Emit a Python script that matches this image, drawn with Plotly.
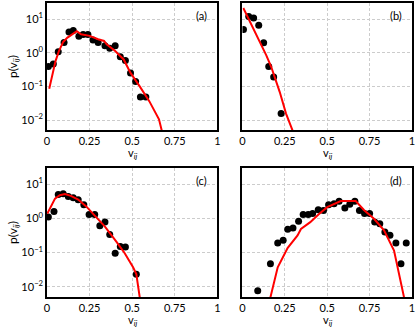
import numpy as np
import plotly.graph_objects as go

# panel (a)
a_pts_v = [0.008, 0.037, 0.066, 0.10, 0.129, 0.154, 0.187, 0.212, 0.24, 0.27,
           0.30, 0.34, 0.368, 0.40, 0.43, 0.46, 0.49, 0.52, 0.548, 0.58]
a_pts_p = [0.39, 0.46, 1.07, 2.0, 4.1, 4.6, 3.1, 3.5, 3.5, 2.4,
           2.0, 1.6, 1.35, 1.6, 0.76, 0.59, 0.25, 0.14, 0.048, 0.048]
a_fit_v = [0.013, 0.03, 0.05, 0.07, 0.095, 0.12, 0.15, 0.175, 0.2, 0.25,
           0.3, 0.335, 0.35, 0.4, 0.45, 0.49, 0.544, 0.6, 0.657, 0.675]
a_fit_logp = [-1.07, -0.7, -0.25, 0.05, 0.32, 0.45, 0.55, 0.64, 0.55, 0.5,
              0.4, 0.35, 0.25, 0.05, -0.2, -0.6, -1.0, -1.44, -1.98, -2.35]

# panel (b)
b_pts_v = [0.006, 0.037, 0.066, 0.096, 0.125, 0.155, 0.184, 0.228]
b_pts_p = [4.9, 12.0, 10.7, 6.5, 1.96, 0.39, 0.19, 0.0155]
b_fit_v = [0.005, 0.05, 0.108, 0.14, 0.169, 0.19, 0.22, 0.257, 0.297]
b_fit_logp = [1.33, 0.87, 0.29, -0.07, -0.41, -0.71, -1.17, -1.81, -2.33]

# panel (c)
c_pts_v = [0.008, 0.041, 0.066, 0.095, 0.125, 0.154, 0.183, 0.216, 0.247,
           0.28, 0.31, 0.34, 0.368, 0.40, 0.43, 0.46, 0.524]
c_pts_p = [1.1, 1.6, 5.0, 5.3, 4.4, 4.0, 3.5, 2.5, 1.3,
           1.3, 0.61, 0.78, 0.34, 0.095, 0.15, 0.145, 0.023]
c_fit_v = [0.002, 0.047, 0.075, 0.105, 0.14, 0.183, 0.23, 0.29, 0.34,
           0.41, 0.456, 0.505, 0.524, 0.544]
c_fit_logp = [0.14, 0.58, 0.68, 0.71, 0.66, 0.55, 0.35, 0.04, -0.24,
              -0.70, -1.02, -1.43, -1.63, -2.31]

# panel (d)
d_pts_v = [0.09, 0.165, 0.208, 0.24, 0.267, 0.298, 0.331, 0.358, 0.388, 0.414,
           0.447, 0.478, 0.508, 0.54, 0.57, 0.604, 0.633, 0.663, 0.69, 0.72,
           0.75, 0.78, 0.81, 0.84, 0.87, 0.905, 0.935, 0.966]
d_pts_p = [0.0076, 0.047, 0.19, 0.23, 0.48, 0.52, 0.82, 1.3, 1.3, 1.4,
           1.8, 1.7, 2.5, 2.7, 3.2, 2.0, 2.6, 3.2, 1.7, 1.4,
           1.4, 0.78, 0.7, 0.4, 0.32, 0.19, 0.047, 0.19]
d_fit_v = [0.165, 0.208, 0.267, 0.325, 0.345, 0.40, 0.45, 0.50, 0.58, 0.668,
           0.718, 0.776, 0.835, 0.894, 0.953]
d_fit_logp = [-2.31, -1.43, -0.86, -0.5, -0.31, -0.11, 0.12, 0.33, 0.51, 0.51,
              0.24, -0.01, -0.35, -0.94, -2.31]

panels = [
    ("(a)", a_pts_v, a_pts_p, a_fit_v, a_fit_logp),
    ("(b)", b_pts_v, b_pts_p, b_fit_v, b_fit_logp),
    ("(c)", c_pts_v, c_pts_p, c_fit_v, c_fit_logp),
    ("(d)", d_pts_v, d_pts_p, d_fit_v, d_fit_logp),
]

x_ticks = [0, 0.25, 0.5, 0.75, 1]
x_ticktext = ["0", "0.25", "0.5", "0.75", "1"]
y_ticks = [0.01, 0.1, 1, 10]
y_ticktext = ["10<sup>−2</sup>", "10<sup>−1</sup>", "10<sup>0</sup>", "10<sup>1</sup>"]

font = dict(family="Lato", size=11, color="black")
title_font = dict(family="Lato", size=12, color="black")
xdoms = [[0, 0.467], [0.5355, 1]]
ydoms = [[0.5676, 1], [0, 0.439]]

fig = go.Figure()
layout = {}
annotations = []
for i, (lab, pv, pp, fv, flp) in enumerate(panels):
    n = "" if i == 0 else str(i + 1)
    row, col = divmod(i, 2)
    fig.add_trace(go.Scatter(
        x=pv, y=pp, mode="markers", xaxis="x" + n, yaxis="y" + n,
        marker=dict(color="black", size=7), showlegend=False,
    ))
    fig.add_trace(go.Scatter(
        x=fv, y=[10 ** v for v in flp], mode="lines", xaxis="x" + n, yaxis="y" + n,
        line=dict(color="#ff0000", width=2), showlegend=False,
    ))
    layout["xaxis" + n] = dict(
        domain=xdoms[col], anchor="y" + n, range=[0, 1],
        tickvals=x_ticks, ticktext=x_ticktext, ticks="",
        showline=True, linecolor="black", linewidth=1.5, mirror=True,
        showgrid=True, gridcolor="#cccccc", griddash="3px,2px", gridwidth=1,
        zeroline=False, tickfont=font,
    )
    layout["yaxis" + n] = dict(
        domain=ydoms[row], anchor="x" + n, type="log",
        range=[np.log10(0.005), np.log10(30)],
        tickvals=y_ticks, ticktext=y_ticktext, ticks="",
        showticklabels=(col == 0),
        showline=True, linecolor="black", linewidth=1.5, mirror=True,
        showgrid=True, gridcolor="#cccccc", griddash="3px,2px", gridwidth=1,
        zeroline=False, tickfont=font,
        title=dict(text="p(v<sub><i>ij</i></sub>)" if col == 0 else "",
                   font=title_font, standoff=1),
    )
    annotations.append(dict(
        text=lab, xref="x" + n + " domain", yref="y" + n + " domain",
        x=0.95, y=0.9, xanchor="right", yanchor="middle",
        showarrow=False, font=font,
    ))
    # x-axis title, placed below the tick labels
    annotations.append(dict(
        text="v<sub><i>ij</i></sub>", xref="x" + n + " domain", yref="y" + n + " domain",
        x=0.5, y=0, xanchor="center", yanchor="top", yshift=-14,
        showarrow=False, font=font,
    ))

fig.update_layout(
    **layout,
    annotations=annotations,
    width=416, height=328,
    margin=dict(l=47, r=3, t=1, b=31),
    plot_bgcolor="white", paper_bgcolor="white",
)

# drop the default page margin so the figure sits at the window corner
fig.write_html("out.html", config={"displayModeBar": False},
               post_script="document.body.style.margin='0';")
